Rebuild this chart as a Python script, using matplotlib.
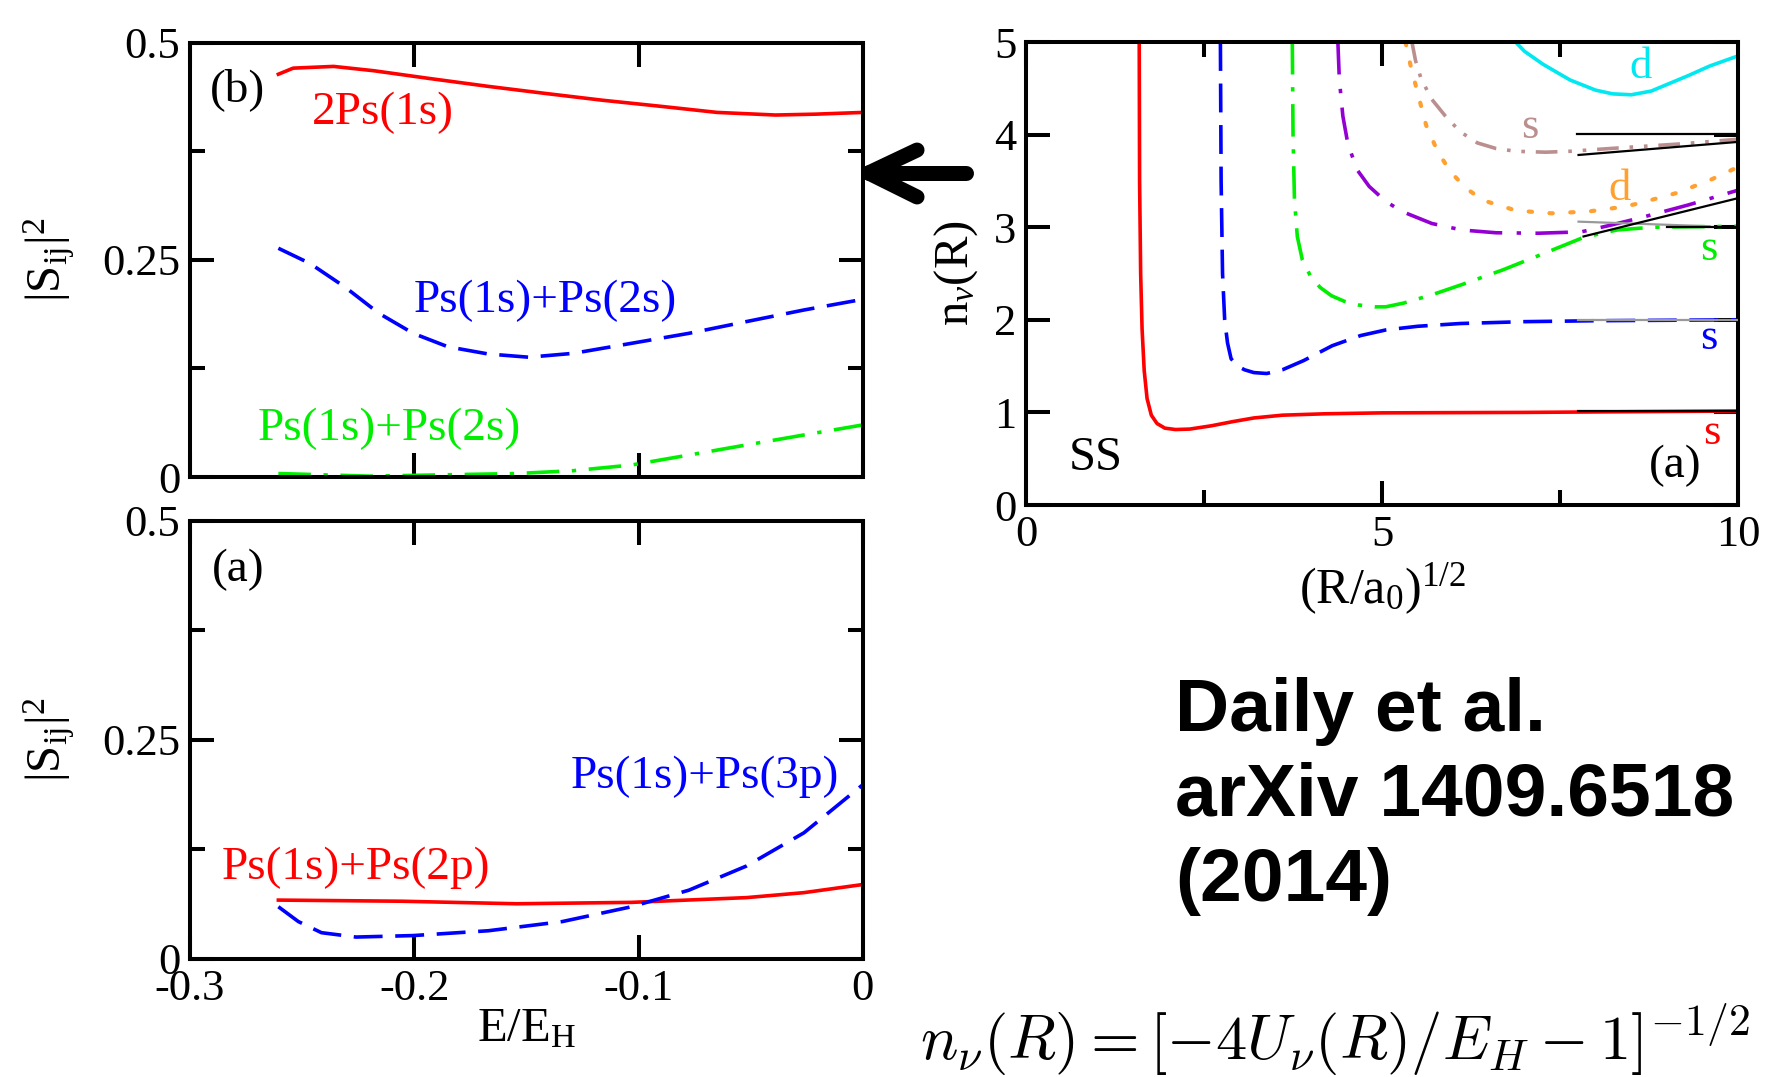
"""Scattering probabilities and adiabatic hyperradial curves for Ps2."""

import matplotlib

matplotlib.use("Agg")
import matplotlib.pyplot as plt
from matplotlib.lines import Line2D

plt.rcParams["font.family"] = ["Liberation Serif", "DejaVu Serif"]
plt.rcParams["mathtext.fontset"] = "custom"
plt.rcParams["mathtext.rm"] = "Liberation Serif"
plt.rcParams["mathtext.it"] = "Liberation Serif:italic"
plt.rcParams["axes.unicode_minus"] = False

# ---- panel (b): |S_ij|^2 vs E/E_H, upper ----
b_2ps1s_x = [-0.2606, -0.254, -0.236, -0.218, -0.193, -0.167, -0.142, -0.116, -0.090, -0.065, -0.039, -0.021, 0.0]
b_2ps1s_y = [0.464, 0.471, 0.473, 0.468, 0.459, 0.450, 0.442, 0.434, 0.427, 0.420, 0.417, 0.418, 0.420]

b_1s2s_x = [-0.2606, -0.2465, -0.231, -0.2158, -0.2005, -0.185, -0.167, -0.149, -0.129, -0.1032, -0.0776, -0.052, -0.0263, 0.0]
b_1s2s_y = [0.2635, 0.246, 0.219, 0.1886, 0.1655, 0.150, 0.1417, 0.138, 0.1425, 0.154, 0.1655, 0.179, 0.1924, 0.2047]

b_green_x = [-0.2606, -0.22, -0.1543, -0.129, -0.1032, -0.0776, -0.052, -0.0263, 0.0]
b_green_y = [0.004, 0.001, 0.004, 0.0073, 0.0138, 0.0253, 0.0369, 0.0484, 0.060]

# ---- panel (a): |S_ij|^2 vs E/E_H, lower ----
a_1s2p_x = [-0.2606, -0.2056, -0.1543, -0.1032, -0.052, -0.0263, 0.0]
a_1s2p_y = [0.0672, 0.0659, 0.063, 0.0646, 0.070, 0.0757, 0.085]

a_1s3p_x = [-0.2606, -0.2517, -0.2414, -0.226, -0.2005, -0.167, -0.134, -0.1032, -0.0776, -0.052, -0.0263, 0.0]
a_1s3p_y = [0.0596, 0.0427, 0.030, 0.025, 0.0267, 0.0322, 0.0427, 0.0596, 0.0785, 0.106, 0.144, 0.199]

# ---- right panel: n_nu(R) vs (R/a0)^(1/2) ----
red_x = [1.59, 1.595, 1.61, 1.63, 1.66, 1.70, 1.76, 1.84, 1.95, 2.1, 2.3, 2.6, 2.9, 3.2, 3.6, 4.2, 5.0, 7.0, 10.0]
red_y = [5.0, 3.5, 2.5, 1.9, 1.45, 1.15, 0.97, 0.88, 0.83, 0.815, 0.82, 0.855, 0.9, 0.94, 0.97, 0.985, 0.995, 1.0, 1.015]

blue_x = [2.73, 2.74, 2.76, 2.79, 2.83, 2.88, 2.97, 3.07, 3.2, 3.38, 3.6, 3.9, 4.3, 4.7, 5.05, 5.5, 6.1, 7.0, 8.0, 10.0]
blue_y = [5.0, 3.5, 2.5, 2.0, 1.75, 1.58, 1.5, 1.46, 1.43, 1.42, 1.46, 1.56, 1.72, 1.83, 1.89, 1.93, 1.96, 1.98, 1.99, 2.0]

green_x = [3.74, 3.75, 3.77, 3.81, 3.88, 3.99, 4.13, 4.29, 4.47, 4.67, 4.9, 5.05, 5.3, 5.7, 6.12, 6.7, 7.22, 7.83, 8.3, 8.8, 10.0]
green_y = [5.0, 4.0, 3.3, 2.9, 2.65, 2.48, 2.35, 2.26, 2.2, 2.16, 2.14, 2.14, 2.18, 2.27, 2.38, 2.54, 2.70, 2.89, 2.97, 3.0, 3.01]

purple_x = [4.38, 4.40, 4.45, 4.52, 4.65, 4.82, 5.05, 5.28, 5.7, 6.12, 6.6, 7.2, 7.8, 8.2, 8.62, 9.3, 10.0]
purple_y = [5.0, 4.6, 4.2, 3.9, 3.62, 3.44, 3.28, 3.17, 3.04, 2.97, 2.94, 2.935, 2.95, 3.02, 3.10, 3.24, 3.40]

orange_x = [5.33, 5.4, 5.5, 5.62, 5.78, 5.96, 6.18, 6.42, 6.88, 7.38, 7.9, 8.39, 8.62, 9.14, 9.61, 10.0]
orange_y = [5.0, 4.75, 4.45, 4.1, 3.82, 3.6, 3.42, 3.29, 3.18, 3.15, 3.17, 3.22, 3.26, 3.37, 3.51, 3.65]

brown_x = [5.42, 5.47, 5.55, 5.7, 5.89, 6.1, 6.34, 6.6, 6.88, 7.3, 7.64, 8.4, 9.2, 10.0]
brown_y = [5.0, 4.8, 4.6, 4.38, 4.2, 4.03, 3.91, 3.85, 3.82, 3.81, 3.82, 3.86, 3.9, 3.95]

cyan_x = [6.85, 7.0, 7.26, 7.64, 8.0, 8.24, 8.5, 8.78, 9.31, 9.6, 10.0]
cyan_y = [5.02, 4.9, 4.76, 4.59, 4.48, 4.44, 4.43, 4.47, 4.64, 4.74, 4.85]

# asymptotic limits: (x0, x1, y0, y1, colour)
asymptotes = [
    (7.75, 10.0, 1.015, 1.015, "black"),
    (7.75, 10.0, 2.0, 2.0, "#999999"),
    (7.76, 9.6, 3.06, 3.01, "#999999"),
    (9.0, 10.0, 3.0, 3.0, "black"),
    (7.83, 9.98, 2.90, 3.31, "black"),
    (7.76, 9.98, 3.78, 3.92, "black"),
    (7.74, 10.0, 4.01, 4.01, "black"),
]

e_ticks = [-0.3, -0.2, -0.1, 0.0]
e_tick_labels = ["-0.3", "-0.2", "-0.1", "0"]
s_ticks = [0.0, 0.25, 0.5]
s_tick_labels = ["0", "0.25", "0.5"]
s_minor = [0.125, 0.375]
r_ticks = [0, 5, 10]
r_minor = [2.5, 7.5]
n_ticks = [0, 1, 2, 3, 4, 5]

RED = "#ff0000"
BLUE = "#0000ff"
GREEN = "#00ee00"
PURPLE = "#9400d3"
ORANGE = "#ffa030"
BROWN = "#bc8f8f"
CYAN = "#00e8f0"

LW = 2.6
TICK_FS = 32
LABEL_FS = 35
NOTE_FS = 34
LETTER_FS = 32


def style_axes(ax):
    for spine in ax.spines.values():
        spine.set_linewidth(2.9)
    ax.tick_params(which="both", direction="in", top=True, right=True,
                   width=2.9, labelsize=TICK_FS)
    ax.tick_params(which="major", length=17, pad=7)
    ax.tick_params(which="minor", length=11)


fig = plt.figure(figsize=(17.69, 10.77), dpi=100)
ax_b = fig.add_axes([0.1074, 0.5571, 0.3804, 0.4030])
ax_a = fig.add_axes([0.1074, 0.1096, 0.3804, 0.4067])
ax_r = fig.add_axes([0.5800, 0.5311, 0.4025, 0.4299])

dash = (0, (8, 3.5))
dashdot = (0, (9, 3.5, 1.2, 3.5))

# panel (b)
ax_b.plot(b_2ps1s_x, b_2ps1s_y, color=RED, lw=LW)
ax_b.plot(b_1s2s_x, b_1s2s_y, color=BLUE, lw=LW, linestyle=dash)
ax_b.plot(b_green_x, b_green_y, color=GREEN, lw=LW, linestyle=dashdot)
ax_b.text(-0.279, 0.446, "(b)", fontsize=NOTE_FS, ha="center", va="center")
ax_b.text(-0.214, 0.419, "2Ps(1s)", color=RED, fontsize=NOTE_FS, ha="center", va="center")
ax_b.text(-0.1417, 0.203, "Ps(1s)+Ps(2s)", color=BLUE, fontsize=NOTE_FS, ha="center", va="center")
ax_b.text(-0.2113, 0.055, "Ps(1s)+Ps(2s)", color=GREEN, fontsize=NOTE_FS, ha="center", va="center")

# panel (a)
ax_a.plot(a_1s2p_x, a_1s2p_y, color=RED, lw=LW)
ax_a.plot(a_1s3p_x, a_1s3p_y, color=BLUE, lw=LW, linestyle=dash)
ax_a.text(-0.2786, 0.444, "(a)", fontsize=NOTE_FS, ha="center", va="center")
ax_a.text(-0.0704, 0.208, "Ps(1s)+Ps(3p)", color=BLUE, fontsize=NOTE_FS, ha="center", va="center")
ax_a.text(-0.226, 0.104, "Ps(1s)+Ps(2p)", color=RED, fontsize=NOTE_FS, ha="center", va="center")

for ax in (ax_b, ax_a):
    ax.set_xlim(-0.3, 0.0)
    ax.set_ylim(0.0, 0.5)
    ax.set_xticks(e_ticks)
    ax.set_yticks(s_ticks)
    ax.set_yticks(s_minor, minor=True)
    ax.set_yticklabels(s_tick_labels)
    style_axes(ax)
    ax.set_ylabel(r"$|\mathrm{S}_{\mathrm{ij}}|^{2}$", fontsize=LABEL_FS)
    ax.yaxis.set_label_coords(-0.168, 0.5)

ax_b.set_xticklabels([])
ax_a.set_xticklabels(e_tick_labels)
ax_a.set_xlabel(r"$\mathrm{E/E}_{\mathrm{H}}$", fontsize=LABEL_FS, va="top")
ax_a.xaxis.set_label_coords(0.5, -0.11)

# right panel
ax_r.plot(red_x, red_y, color=RED, lw=LW)
ax_r.plot(blue_x, blue_y, color=BLUE, lw=LW, linestyle=dash)
ax_r.plot(green_x, green_y, color=GREEN, lw=LW, linestyle=dashdot)
ax_r.plot(purple_x, purple_y, color=PURPLE, lw=LW, linestyle=(0, (9, 4, 1.2, 4)))
ax_r.plot(orange_x, orange_y, color=ORANGE, lw=3.0, linestyle=(0, (0.8, 4.2)),
          dash_capstyle="round")
ax_r.plot(brown_x, brown_y, color=BROWN, lw=LW, linestyle=(0, (6, 3, 1, 3, 1, 3)))
ax_r.plot(cyan_x, cyan_y, color=CYAN, lw=LW)
for x0, x1, y0, y1, c in asymptotes:
    ax_r.plot([x0, x1], [y0, y1], color=c, lw=1.6, zorder=3)

ax_r.text(8.63, 4.73, "d", color=CYAN, fontsize=LETTER_FS, ha="center", va="center")
ax_r.text(7.08, 4.08, "s", color=BROWN, fontsize=LETTER_FS, ha="center", va="center")
ax_r.text(8.34, 3.41, "d", color=ORANGE, fontsize=LETTER_FS, ha="center", va="center")
ax_r.text(9.59, 2.76, "s", color=GREEN, fontsize=LETTER_FS, ha="center", va="center")
ax_r.text(9.59, 1.80, "s", color=BLUE, fontsize=LETTER_FS, ha="center", va="center")
ax_r.text(9.63, 0.78, "s", color=RED, fontsize=LETTER_FS, ha="center", va="center")
ax_r.text(0.98, 0.51, "SS", fontsize=35, ha="center", va="center")
ax_r.text(9.12, 0.42, "(a)", fontsize=NOTE_FS, ha="center", va="center")

ax_r.set_xlim(0, 10)
ax_r.set_ylim(0, 5)
ax_r.set_xticks(r_ticks)
ax_r.set_xticks(r_minor, minor=True)
ax_r.set_yticks(n_ticks)
style_axes(ax_r)
ax_r.set_ylabel(r"$\mathrm{n}_{\nu}\mathrm{(R)}$", fontsize=LABEL_FS)
ax_r.yaxis.set_label_coords(-0.065, 0.5)
ax_r.set_xlabel(r"$\mathrm{(R/a}_{0}\mathrm{)}^{1/2}$", fontsize=36, va="top")
ax_r.xaxis.set_label_coords(0.5, -0.121)

# arrow pointing at the upper-left panel
arrow_kw = dict(color="black", lw=10.8, solid_capstyle="round", transform=fig.transFigure)
fig.add_artist(Line2D([0.491, 0.5461], [0.8394, 0.8394], **arrow_kw))
fig.add_artist(Line2D([0.491, 0.5184], [0.8394, 0.8607], **arrow_kw))
fig.add_artist(Line2D([0.491, 0.5184], [0.8394, 0.8171], **arrow_kw))

# citation
cite_kw = dict(fontsize=54, fontweight="bold", family="Liberation Sans", va="baseline", ha="left")
fig.text(1175 / 1769, 1 - 731 / 1077, "Daily et al.", **cite_kw)
fig.text(1175 / 1769, 1 - 816 / 1077, "arXiv 1409.6518", **cite_kw)
fig.text(1175 / 1769, 1 - 901 / 1077, "(2014)", **cite_kw)

fig.text(920 / 1769, 1 - 1060 / 1077,
         r"$n_{\nu}(R) = [-4U_{\nu}(R)/E_H - 1]^{-1/2}$",
         fontsize=45, math_fontfamily="cm", ha="left", va="baseline")

fig.savefig("out.png", dpi=100)
